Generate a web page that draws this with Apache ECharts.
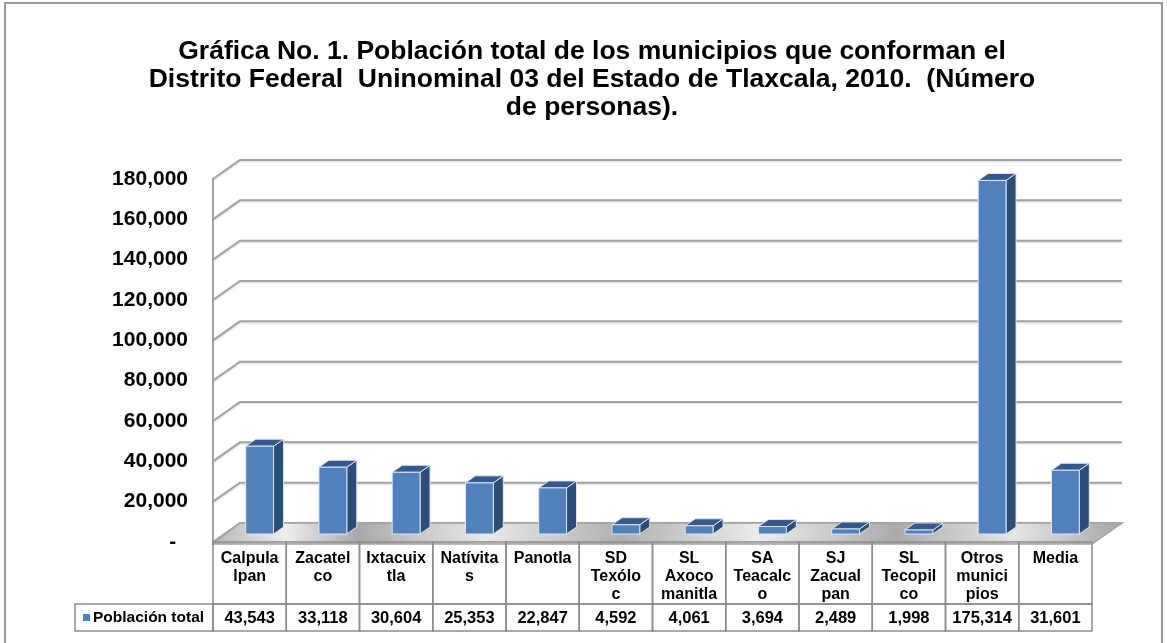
<!DOCTYPE html>
<html>
<head>
<meta charset="utf-8">
<script src="https://cdn.jsdelivr.net/npm/echarts@6/dist/echarts.min.js"></script>
<style>
  html, body { margin: 0; padding: 0; background: #fff; }
  #chartBox { width: 1167px; height: 643px; }
</style>
</head>
<body>
<div id="chartBox"></div>
<script>
// municipios (label breaks as printed in the table)
var categories = ['Calpula\nlpan', 'Zacatel\nco', 'Ixtacuix\ntla', 'Natívita\ns', 'Panotla',
  'SD\nTexólo\nc', 'SL\nAxoco\nmanitla', 'SA\nTeacalc\no', 'SJ\nZacual\npan', 'SL\nTecopil\nco',
  'Otros\nmunici\npios', 'Media'];
var poblacion = [43543, 33118, 30604, 25353, 22847, 4592, 4061, 3694, 2489, 1998, 175314, 31601];
var yTicks = [0, 20000, 40000, 60000, 80000, 100000, 120000, 140000, 160000, 180000];
var serieNombre = 'Población total';
var titulo = 'Gráfica No. 1. Población total de los municipios que conforman el\n' +
  'Distrito Federal  Uninominal 03 del Estado de Tlaxcala, 2010.  (Número\nde personas).';

var FONT = '"Liberation Sans", Arial, sans-serif';
var DEPTH_X = 27, DEPTH_Y = 19;   // back wall offset
var BAR_DX = 10, BAR_DY = 7;      // bar depth

function fmt(v) {
  return v.toString().replace(/\B(?=(\d{3})+(?!\d))/g, ',');
}

var chart = echarts.init(document.getElementById('chartBox'));

function renderWall(params, api) {
  var cs = params.coordSys;
  var y = api.coord([0, api.value(1)])[1];
  return {
    type: 'polyline',
    shape: { points: [[cs.x, y], [cs.x + DEPTH_X, y - DEPTH_Y], [cs.x + cs.width + 30, y - DEPTH_Y]] },
    style: { stroke: '#a3a3a3', lineWidth: 2, fill: null, shadowColor: 'rgba(0,0,0,0.15)', shadowBlur: 2, shadowOffsetY: 1 }
  };
}

function renderFloor(params, api) {
  var cs = params.coordSys;
  var y0 = api.coord([0, 0])[1];
  return {
    type: 'polygon',
    shape: { points: [[cs.x, y0 + 2], [cs.x + cs.width, y0 + 2], [cs.x + cs.width + 30, y0 - DEPTH_Y], [cs.x + DEPTH_X, y0 - DEPTH_Y]] },
    style: {
      fill: new echarts.graphic.LinearGradient(0, 0, 1, 0, [
        { offset: 0, color: '#b5b5b5' }, { offset: 0.08, color: '#eeeeee' }, { offset: 0.16, color: '#a9a9a9' },
        { offset: 0.3, color: '#e9e9e9' }, { offset: 0.45, color: '#b0b0b0' }, { offset: 0.6, color: '#ececec' },
        { offset: 0.75, color: '#ababab' }, { offset: 0.88, color: '#e6e6e6' }, { offset: 1, color: '#a5a5a5' }
      ]),
      stroke: '#a3a3a3', lineWidth: 1.5
    }
  };
}

function renderBar(params, api) {
  var i = api.value(0);
  var base = api.coord([i, 0]);
  var top = api.coord([i, api.value(1)]);
  var bw = api.size([1, 0])[0] * 0.38;
  var x = base[0] - bw / 2 + 10;
  var yb = base[1] - 8, yt = top[1] - 8;
  var edge = 'rgba(225,232,245,0.95)';
  return {
    type: 'group',
    children: [
      { type: 'polygon', shape: { points: [[x + bw, yb], [x + bw + BAR_DX, yb - BAR_DY], [x + bw + BAR_DX, yt - BAR_DY], [x + bw, yt]] },
        style: { fill: '#2c4d75', stroke: edge, lineWidth: 1 } },
      { type: 'polygon', shape: { points: [[x, yt], [x + BAR_DX, yt - BAR_DY], [x + bw + BAR_DX, yt - BAR_DY], [x + bw, yt]] },
        style: { fill: '#34598a', stroke: edge, lineWidth: 1 } },
      { type: 'rect', shape: { x: x, y: yt, width: bw, height: yb - yt },
        style: { fill: '#4f81bd', stroke: edge, lineWidth: 1 } }
    ]
  };
}

function renderTable(params, api) {
  var i = api.value(0);
  var base = api.coord([i, 0]);
  var cw = api.size([1, 0])[0];
  var x0 = base[0] - cw / 2;
  var y0 = base[1];
  var line = { fill: null, stroke: '#8c8c8c', lineWidth: 1.5 };
  return {
    type: 'group',
    children: [
      { type: 'rect', shape: { x: x0, y: y0, width: cw, height: 62 }, style: line },
      { type: 'rect', shape: { x: x0, y: y0 + 62, width: cw, height: 27 }, style: line },
      { type: 'text', style: { x: base[0], y: y0 + 8, text: categories[i], align: 'center', verticalAlign: 'top',
        font: 'bold 16px ' + FONT, lineHeight: 18, fill: '#000' } },
      { type: 'text', style: { x: base[0], y: y0 + 76, text: fmt(api.value(1)), align: 'center', verticalAlign: 'middle',
        font: 'bold 16.5px ' + FONT, fill: '#000' } }
    ]
  };
}

var barData = poblacion.map(function (v, i) { return [i, v]; });

var option = {
  animation: false,
  backgroundColor: '#fff',
  grid: { left: 213, right: 75, top: 179, bottom: 101 },
  xAxis: {
    type: 'category', data: categories,
    axisLine: { show: false }, axisTick: { show: false }, axisLabel: { show: false }, splitLine: { show: false }
  },
  yAxis: {
    type: 'value', min: 0, max: 180000, interval: 20000,
    axisLine: { show: true, lineStyle: { color: '#a3a3a3', width: 2 } },
    axisTick: { show: false },
    splitLine: { show: false },
    axisLabel: {
      margin: 25, color: '#000', fontSize: 21, fontWeight: 'bold', fontFamily: FONT,
      formatter: function (v) { return v === 0 ? '-  ' : fmt(v); }
    }
  },
  graphic: [
    { type: 'rect', shape: { x: 5, y: 3, width: 1157, height: 680 }, style: { fill: null, stroke: '#9a9a9a', lineWidth: 2 }, silent: true },
    { type: 'text', x: 592, y: 38, style: { text: titulo, align: 'center', verticalAlign: 'top', font: 'bold 26.5px ' + FONT, lineHeight: 28, fill: '#000' } },
    { type: 'rect', shape: { x: 75, y: 604, width: 138, height: 27 }, style: { fill: null, stroke: '#8c8c8c', lineWidth: 1.5 } },
    { type: 'rect', shape: { x: 83, y: 614, width: 7, height: 7 }, style: { fill: '#4f81bd' } },
    { type: 'text', x: 93, y: 618, style: { text: serieNombre, verticalAlign: 'middle', font: 'bold 15.5px ' + FONT, fill: '#000' } }
  ],
  series: [
    { type: 'custom', name: 'pared', renderItem: renderWall, data: yTicks.map(function (t) { return [0, t]; }), z: 1, silent: true },
    { type: 'custom', name: 'piso', renderItem: renderFloor, data: [[0, 0]], z: 2, silent: true },
    { type: 'custom', name: serieNombre, renderItem: renderBar, data: barData, z: 3 },
    { type: 'custom', name: 'tabla', renderItem: renderTable, data: barData, z: 4, silent: true }
  ]
};

chart.setOption(option);
</script>
</body>
</html>
